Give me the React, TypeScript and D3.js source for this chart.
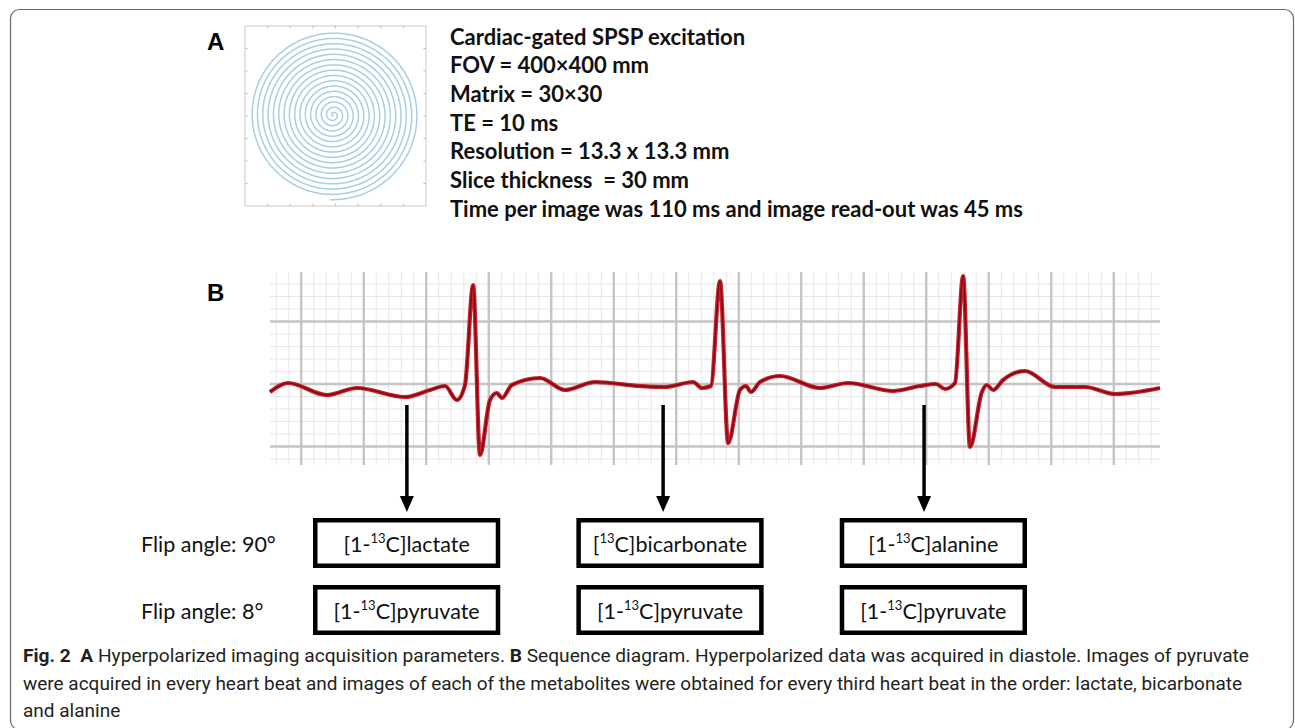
import React, { useRef, useEffect } from "react";
import * as d3 from "d3";

const W = 1295;
const H = 728;

// panel A: acquisition parameters
const paramLines = [
  "Cardiac-gated SPSP excitation",
  "FOV = 400×400 mm",
  "Matrix = 30×30",
  "TE = 10 ms",
  "Resolution = 13.3 x 13.3 mm",
  "Slice thickness  = 30 mm",
  "Time per image was 110 ms and image read-out was 45 ms",
];

// spiral k-space trajectory (normalised k units)
const spiralTurns = 16;
const spiralKmax = 0.94;
const spiralEndDeg = 92;
const kTicks = [-1, -0.75, -0.5, -0.25, 0, 0.25, 0.5, 0.75, 1];

// panel B: ECG trace, time (s) and amplitude (mV)
const ecgTime = [
  0, 0.058, 0.182, 0.278, 0.432, 0.512, 0.56, 0.598, 0.624, 0.65, 0.672, 0.704,
  0.726, 0.742, 0.774, 0.864, 0.944, 1.04, 1.184, 1.264, 1.354, 1.382, 1.411,
  1.44, 1.466, 1.504, 1.523, 1.539, 1.568, 1.632, 1.76, 1.85, 1.994, 2.08,
  2.131, 2.16, 2.192, 2.218, 2.24, 2.278, 2.294, 2.314, 2.346, 2.416, 2.512,
  2.608, 2.704, 2.848,
];
const ecgMv = [
  -0.064, 0.008, -0.088, -0.032, -0.104, -0.048, -0.016, -0.128, -0.008, 0.792,
  -0.568, -0.128, -0.072, -0.112, -0.008, 0.048, -0.048, 0.016, -0.016, -0.024,
  0.016, -0.032, -0.016, 0.824, -0.472, -0.048, -0.016, -0.064, 0.016, 0.064,
  -0.032, 0.008, -0.056, -0.016, 0, -0.04, 0.008, 0.864, -0.504, -0.064,
  -0.008, -0.048, 0.032, 0.104, -0.024, -0.024, -0.08, -0.032,
];

// image acquisition instants (s), one per heart beat
const acqTimes = [0.438, 1.258, 2.093];

const flipLabels = ["Flip angle: 90°", "Flip angle: 8°"];
const metabPrefix = ["[1-", "[", "[1-"];
const metabName = ["lactate", "bicarbonate", "alanine"];
const pyrPrefix = ["[1-", "[1-", "[1-"];
const pyrName = ["pyruvate", "pyruvate", "pyruvate"];

const captionLines = [
  [
    { t: "Fig. 2", b: true },
    { t: "  ", b: false },
    { t: "A", b: true },
    { t: " Hyperpolarized imaging acquisition parameters. ", b: false },
    { t: "B", b: true },
    {
      t: " Sequence diagram. Hyperpolarized data was acquired in diastole. Images of pyruvate",
      b: false,
    },
  ],
  [
    {
      t: "were acquired in every heart beat and images of each of the metabolites were obtained for every third heart beat in the order: lactate, bicarbonate",
      b: false,
    },
  ],
  [{ t: "and alanine", b: false }],
];
const captionWidths = [1226, 1219, null];

const calibri = "Lato, 'Open Sans', sans-serif";

const App = () => {
  const svgRef = useRef(null);

  useEffect(() => {
    const svg = d3.select(svgRef.current);
    svg.selectAll("*").remove();

    // figure frame
    svg
      .append("rect")
      .attr("x", 10.5)
      .attr("y", 9.5)
      .attr("width", 1283)
      .attr("height", 720)
      .attr("rx", 9)
      .attr("fill", "none")
      .attr("stroke", "#6a6a6a")
      .attr("stroke-width", 1.2);

    // ---------- panel A ----------
    svg
      .append("text")
      .attr("x", 207)
      .attr("y", 50)
      .attr("font-family", "'Liberation Sans', Arial, sans-serif")
      .attr("font-weight", 700)
      .attr("font-size", 24)
      .text("A");

    const kx = d3.scaleLinear().domain([-1, 1]).range([245, 426]);
    const ky = d3.scaleLinear().domain([-1, 1]).range([206, 26]);
    const gA = svg.append("g");
    gA.append("rect")
      .attr("x", kx(-1))
      .attr("y", ky(1))
      .attr("width", kx(1) - kx(-1))
      .attr("height", ky(-1) - ky(1))
      .attr("fill", "#fff")
      .attr("stroke", "#c9c9c9")
      .attr("stroke-width", 1);
    const tk = kTicks.slice(1, -1);
    tk.forEach((v) => {
      [
        [kx(v), ky(1), kx(v), ky(1) + 2.5],
        [kx(v), ky(-1), kx(v), ky(-1) - 2.5],
        [kx(-1), ky(v), kx(-1) + 2.5, ky(v)],
        [kx(1), ky(v), kx(1) - 2.5, ky(v)],
      ].forEach(([x1, y1, x2, y2]) =>
        gA
          .append("line")
          .attr("x1", x1)
          .attr("y1", y1)
          .attr("x2", x2)
          .attr("y2", y2)
          .attr("stroke", "#bdbdbd")
      );
    });

    const thMax = spiralTurns * 2 * Math.PI;
    const endRad = (spiralEndDeg * Math.PI) / 180;
    const spiralPts = d3.range(0, thMax, 0.02).concat([thMax]).map((th) => {
      const r = (spiralKmax * th) / thMax;
      const a = endRad - (thMax - th);
      return [r * Math.cos(a) - 0.025, -r * Math.sin(a) + 0.01];
    });
    gA.append("path")
      .attr(
        "d",
        d3
          .line()
          .x((d) => kx(d[0]))
          .y((d) => ky(d[1]))(spiralPts)
      )
      .attr("fill", "none")
      .attr("stroke", "#a9cde6")
      .attr("stroke-width", 1.5);

    const tA = svg
      .append("g")
      .attr("font-family", calibri)
      .attr("font-weight", 700)
      .attr("font-size", 22)
      .attr("fill", "#111");
    paramLines.forEach((s, i) =>
      tA
        .append("text")
        .attr("x", 450)
        .attr("y", 44.5 + i * 28.7)
        .style("white-space", "pre")
        .text(s)
    );

    // ---------- panel B ----------
    svg
      .append("text")
      .attr("x", 207)
      .attr("y", 301)
      .attr("font-family", "'Liberation Sans', Arial, sans-serif")
      .attr("font-weight", 700)
      .attr("font-size", 24)
      .text("B");

    const x = d3.scaleLinear().domain([0, 2.848]).range([270, 1160]);
    const y = d3.scaleLinear().domain([-0.648, 0.896]).range([465, 272]);

    const grid = svg.append("g");
    const minorT = d3.range(0.02, 2.848, 0.04);
    const majorT = d3.range(0.1, 2.848, 0.2);
    const minorV = d3.range(-0.6, 0.89, 0.1);
    const majorV = [-0.5, 0, 0.5];
    minorT.forEach((t) =>
      grid
        .append("line")
        .attr("x1", x(t))
        .attr("x2", x(t))
        .attr("y1", y.range()[1])
        .attr("y2", y.range()[0])
        .attr("stroke", "#e6e6e6")
        .attr("stroke-width", 1)
    );
    minorV.forEach((v) =>
      grid
        .append("line")
        .attr("y1", y(v))
        .attr("y2", y(v))
        .attr("x1", x.range()[0])
        .attr("x2", x.range()[1])
        .attr("stroke", "#e6e6e6")
        .attr("stroke-width", 1)
    );
    majorT.forEach((t) =>
      grid
        .append("line")
        .attr("x1", x(t))
        .attr("x2", x(t))
        .attr("y1", y.range()[1])
        .attr("y2", y.range()[0])
        .attr("stroke", "#c4c4c4")
        .attr("stroke-width", 2.4)
    );
    majorV.forEach((v) =>
      grid
        .append("line")
        .attr("y1", y(v))
        .attr("y2", y(v))
        .attr("x1", x.range()[0])
        .attr("x2", x.range()[1])
        .attr("stroke", "#c4c4c4")
        .attr("stroke-width", 2.4)
    );

    const ecg = ecgTime.map((t, i) => [t, ecgMv[i]]);
    const ecgLine = d3
      .line()
      .x((d) => x(d[0]))
      .y((d) => y(d[1]))
      .curve(d3.curveMonotoneX);
    svg
      .append("path")
      .attr("d", ecgLine(ecg))
      .attr("fill", "none")
      .attr("stroke", "#cc1f2b")
      .attr("stroke-width", 4.2)
      .attr("stroke-linejoin", "round");
    svg
      .append("path")
      .attr("d", ecgLine(ecg))
      .attr("fill", "none")
      .attr("stroke", "#7a0c14")
      .attr("stroke-width", 1.6)
      .attr("stroke-linejoin", "round");

    // arrows
    acqTimes.forEach((t) => {
      const ax = x(t);
      svg
        .append("line")
        .attr("x1", ax)
        .attr("x2", ax)
        .attr("y1", 405)
        .attr("y2", 498)
        .attr("stroke", "#000")
        .attr("stroke-width", 3.5);
      svg
        .append("path")
        .attr("d", `M${ax - 7},496 L${ax + 7},496 L${ax},512 Z`)
        .attr("fill", "#000");
    });

    // boxes
    const col = d3
      .scaleBand()
      .domain(d3.range(3))
      .range([313, 1027])
      .paddingInner(0.289)
      .paddingOuter(0);
    const rows = [
      { top: 518, pre: metabPrefix, name: metabName },
      { top: 585, pre: pyrPrefix, name: pyrName },
    ];
    const sw = 4.5;
    rows.forEach((r, ri) => {
      svg
        .append("text")
        .attr("x", 141)
        .attr("y", r.top + 34)
        .attr("font-family", calibri)
        .attr("font-size", 21.5)
        .attr("fill", "#111")
        .text(flipLabels[ri]);
      d3.range(3).forEach((c) => {
        const bx = col(c);
        svg
          .append("rect")
          .attr("x", bx + sw / 2)
          .attr("y", r.top + sw / 2)
          .attr("width", col.bandwidth() - sw)
          .attr("height", 50 - sw)
          .attr("fill", "#fff")
          .attr("stroke", "#000")
          .attr("stroke-width", sw);
        const tx = svg
          .append("text")
          .attr("x", bx + col.bandwidth() / 2)
          .attr("y", r.top + 34)
          .attr("text-anchor", "middle")
          .attr("font-family", calibri)
          .attr("font-size", 21.5)
          .attr("fill", "#111");
        tx.append("tspan").text(r.pre[c]);
        tx.append("tspan")
          .attr("font-size", 13)
          .attr("dy", -9)
          .text("13");
        tx.append("tspan").attr("dy", 9).text("C]" + r.name[c]);
      });
    });

    // caption
    const cap = svg
      .append("g")
      .attr("font-family", "Roboto, 'Noto Sans', sans-serif")
      .attr("font-size", 19)
      .attr("fill", "#231f20");
    captionLines.forEach((segs, i) => {
      const t = cap
        .append("text")
        .attr("x", 23)
        .attr("y", 662 + i * 27.5)
        .style("white-space", "pre");
      if (captionWidths[i])
        t.attr("textLength", captionWidths[i]).attr(
          "lengthAdjust",
          "spacingAndGlyphs"
        );
      segs.forEach((s) =>
        t
          .append("tspan")
          .attr("font-weight", s.b ? 700 : 400)
          .text(s.t)
      );
    });
  }, []);

  return (
    <svg
      ref={svgRef}
      width={W}
      height={H}
      style={{ position: "absolute", left: 0, top: 0, background: "#fff" }}
    ></svg>
  );
};

export default App;
